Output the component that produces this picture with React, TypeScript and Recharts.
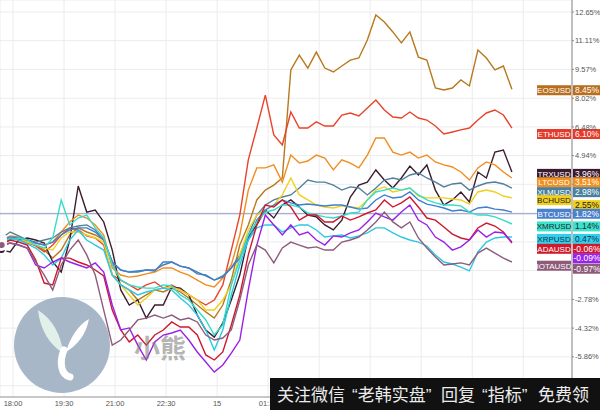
import React from 'react'
import { LineChart, Line, XAxis, YAxis, CartesianGrid, ReferenceLine, ReferenceDot } from 'recharts'

// % change vs. start, one point every 15 minutes from 17:40
const eos = [0.30, 0.52, 0.41, 0.25, 0.14, -0.13, -0.56, -0.13, 0.68, 1.06, 0.84, 0.68, 0.41, -0.77, -2.00, -2.27, -2.81, -2.54, -2.27, -2.38, -2.17, -2.38, -2.70, -3.08, -3.45, -3.78, -3.08, -1.74, 0.14, 1.22, 2.56, 3.09, 3.36, 3.74, 9.54, 10.34, 9.64, 10.50, 9.64, 9.43, 9.75, 10.07, 10.18, 11.15, 12.49, 12.11, 11.58, 10.99, 11.58, 10.23, 10.07, 8.57, 8.46, 8.57, 9.00, 8.68, 10.61, 10.18, 9.54, 9.75, 8.50]
const eth = [0.20, 0.41, 0.52, 0.30, 0.09, -0.23, 0.14, 0.68, 1.06, 0.95, 0.63, 0.52, 0.14, -1.47, -1.74, -2.00, -2.27, -2.00, -1.84, -2.17, -2.00, -2.27, -2.54, -2.81, -3.08, -2.81, -2.00, -0.13, 1.75, 4.71, 6.42, 8.19, 6.05, 5.51, 7.28, 6.42, 6.42, 6.75, 6.53, 6.53, 7.12, 7.23, 7.07, 7.50, 7.93, 7.39, 7.01, 6.96, 7.28, 6.96, 6.85, 6.53, 6.10, 6.21, 6.32, 6.42, 6.85, 7.23, 7.39, 7.12, 6.42]
const trx = [-0.13, -0.23, 0.41, 0.52, 0.41, 0.25, -0.77, -1.31, 0.41, 3.31, 1.91, 2.02, 1.38, -0.13, -2.27, -3.08, -2.81, -3.78, -3.08, -3.08, -2.11, -2.17, -2.54, -3.62, -4.42, -4.80, -4.05, -2.81, -1.47, 0.57, 1.22, 2.02, 1.59, 2.29, 2.56, 2.18, 1.75, 1.65, 1.22, 0.95, 1.48, 2.72, 3.36, 3.52, 4.17, 3.63, 3.20, 3.74, 4.38, 3.90, 4.44, 3.09, 2.29, 2.56, 2.99, 2.45, 4.06, 3.74, 5.13, 5.24, 4.06]
const ltc = [0.41, 0.63, 0.57, 0.41, 0.25, 0.14, 0.30, 0.84, 1.38, 1.75, 1.59, 1.22, 0.68, -1.09, -1.47, -1.58, -1.52, -1.41, -1.31, -1.09, -1.09, -1.31, -1.47, -1.74, -2.00, -2.11, -1.63, -0.93, 0.68, 3.09, 4.28, 4.28, 4.44, 3.52, 4.97, 4.54, 4.65, 4.97, 4.81, 4.17, 4.71, 4.54, 4.28, 4.97, 5.89, 5.89, 5.13, 4.97, 5.13, 4.81, 4.97, 4.60, 4.44, 4.33, 4.06, 3.63, 4.28, 4.60, 4.44, 4.06, 3.74]
const xlm = [0.52, 0.84, 0.63, 0.41, 0.30, 0.41, 0.52, 0.84, 1.06, 1.16, 1.22, 0.95, 0.41, -0.77, -1.20, -1.31, -1.31, -1.20, -1.20, -0.93, -0.77, -0.99, -1.09, -1.31, -1.52, -1.74, -1.52, -1.09, -0.39, 0.68, 1.75, 2.29, 2.56, 2.72, 2.83, 3.20, 3.63, 3.52, 3.52, 3.36, 3.09, 3.26, 3.20, 2.83, 3.20, 3.63, 3.74, 3.63, 3.90, 4.01, 3.74, 3.52, 3.26, 3.42, 3.47, 3.09, 3.31, 3.47, 3.52, 3.42, 3.20]
const bch = [0.30, 0.41, 0.52, 0.30, 0.14, -0.02, -0.13, 0.52, 0.84, 0.84, 0.68, 0.52, 0.30, -1.47, -2.00, -2.54, -3.08, -2.70, -2.27, -2.17, -2.11, -2.27, -2.54, -2.81, -3.35, -3.35, -2.81, -2.00, -0.39, 0.95, 1.75, 2.02, 2.29, 2.83, 3.74, 2.83, 2.56, 2.29, 2.18, 2.13, 2.24, 2.18, 2.13, 2.56, 3.09, 3.26, 2.99, 3.09, 3.20, 2.77, 2.67, 2.67, 2.67, 2.61, 2.56, 2.34, 2.99, 3.09, 2.99, 2.77, 2.67]
const btc = [0.41, 0.57, 0.52, 0.41, 0.25, 0.14, 0.30, 0.68, 0.95, 1.06, 1.06, 0.84, 0.41, -0.77, -1.20, -1.31, -1.25, -1.20, -1.25, -0.77, -0.77, -0.99, -1.09, -1.41, -1.47, -1.74, -1.58, -1.09, -0.56, 0.41, 1.48, 2.02, 2.29, 2.56, 2.40, 2.29, 2.34, 2.29, 2.24, 2.29, 2.29, 2.18, 2.07, 2.13, 2.56, 2.83, 2.67, 2.72, 2.99, 2.56, 2.34, 2.24, 2.13, 1.97, 2.02, 1.91, 2.13, 2.18, 2.07, 2.02, 1.91]
const xmr = [0.25, 0.41, 0.52, 0.41, 0.14, -0.02, 0.52, 2.56, 1.22, 1.59, 1.75, 1.06, 0.52, -0.93, -1.74, -2.00, -2.11, -2.17, -2.17, -2.00, -2.06, -2.54, -2.81, -3.35, -3.88, -4.69, -4.15, -2.00, -0.66, 0.68, 1.38, 1.91, 2.02, 2.29, 2.29, 2.18, 1.86, 1.75, 1.65, 1.59, 1.70, 1.86, 1.91, 2.56, 2.99, 3.09, 3.20, 3.09, 3.20, 2.83, 2.56, 2.40, 2.29, 2.29, 2.24, 1.91, 1.75, 1.75, 1.65, 1.48, 1.27]
const xrp = [0.30, 0.52, 0.41, 0.20, -0.02, -0.39, -0.93, -0.56, 0.41, 0.95, 0.41, 0.14, -0.13, -1.47, -2.00, -2.27, -2.54, -2.38, -2.27, -2.17, -2.27, -2.70, -3.08, -3.62, -4.42, -5.49, -4.42, -2.54, -0.93, 0.41, 1.06, 1.22, 1.22, 0.84, 1.06, 1.22, 1.22, 0.95, 0.57, 0.63, 0.68, 0.52, 0.63, 0.79, 1.06, 1.06, 0.79, 0.57, 0.41, 0.30, 0.09, -0.39, -0.77, -0.88, -1.04, -1.25, -0.23, 0.30, 0.52, 0.57, 0.57]
const ada = [0.20, 0.41, 0.30, 0.14, -0.66, -1.90, -2.00, -0.56, -0.56, -0.77, -0.93, -1.20, -1.52, -3.35, -4.42, -5.06, -4.69, -5.23, -4.69, -4.42, -3.99, -4.26, -4.26, -4.69, -5.76, -6.03, -5.60, -4.15, -2.54, -0.39, 1.22, 2.29, 2.18, 2.56, 2.18, 1.48, 1.75, 1.75, 1.38, 1.38, 1.70, 1.48, 1.65, 1.86, 2.02, 2.56, 2.18, 2.40, 2.72, 2.18, 1.59, 1.48, 1.11, 0.73, 0.52, 0.41, 1.06, 1.32, 1.16, 0.84, 0.25]
const neo = [0.09, 0.25, 0.14, -0.02, -0.93, -1.09, -0.77, -0.56, -0.77, -0.93, -1.09, -0.82, -1.31, -3.08, -4.42, -4.31, -5.23, -6.03, -5.06, -4.69, -4.58, -4.42, -4.96, -5.60, -6.14, -6.68, -6.30, -5.66, -4.96, -2.27, 0.14, 1.75, 1.22, 0.68, 1.22, 0.68, 0.84, 0.41, 0.14, 0.63, 0.57, 0.79, 0.95, 1.38, 1.86, 1.65, 1.48, 1.91, 2.29, 1.48, 1.22, 0.57, 0.30, -0.13, 0.04, 0.41, 0.95, 0.57, 0.84, 0.79, 0.30]
const iota = [0.14, 0.25, 0.14, -0.02, -0.77, -1.47, -2.27, -0.93, -0.13, 0.41, -0.39, -1.47, -3.35, -5.23, -4.96, -4.42, -3.88, -3.78, -3.62, -3.78, -3.62, -3.88, -3.78, -3.99, -4.69, -4.96, -4.85, -4.42, -2.81, -0.93, 0.14, -0.13, -0.82, -0.02, 0.30, 0.14, -0.02, 0.04, -0.13, -0.13, 0.30, 0.41, 0.57, 0.95, 1.38, 1.91, 1.38, 1.06, 1.38, 0.52, -0.02, -0.50, -0.93, -0.88, -0.82, -0.93, -0.29, -0.02, -0.29, -0.56, -0.77]

const symbols = ['EOSUSD', 'ETHUSD', 'TRXUSD', 'LTCUSD', 'XLMUSD', 'BCHUSD', 'BTCUSD', 'XMRUSD', 'XRPUSD', 'ADAUSD', 'NEOUSD', 'IOTAUSD']
const seriesValues = [eos, eth, trx, ltc, xlm, bch, btc, xmr, xrp, ada, neo, iota]
const lastValues = [8.45, 6.10, 3.96, 3.51, 2.98, 2.55, 1.82, 1.14, 0.47, -0.06, -0.09, -0.97]

// minutes after 18:00; labels past 01:30 sit under the banner
const timeTicks = [0, 90, 180, 270, 360, 450, 540, 630, 720, 810, 900]
const timeLabels = ['18:00', '19:30', '21:00', '22:30', '15', '01:30', '', '', '', '', '']
const pctTicks = [12.65, 11.11, 9.57, 8.02, 6.48, 4.94, 3.40, 1.86, 0.31, -1.23, -2.78, -4.32, -5.86, -7.41]
// tick labels that sit behind the price tags or the banner
const coveredTicks = [3.40, 1.86, 0.31, -1.23, -7.41]

const lineColors = ['#b8781e', '#e8442b', '#3a1d2f', '#f08d1e', '#52809a', '#f0d01e', '#3f7fd0', '#36dcc8', '#2cc8e4', '#cf1830', '#9a20e8', '#8e5c7c']
const tagColors = ['#b86e1c', '#e53a2a', '#3a1a2e', '#f0901e', '#4a7f9e', '#f2cf1d', '#4a80cc', '#3de2cc', '#2fd0ea', '#d01a2c', '#9a22ec', '#8e5a7a']
const tagText = ['#fff', '#fff', '#fff', '#fff', '#fff', '#222', '#fff', '#1a2a30', '#1a3050', '#fff', '#fff', '#fff']
// small pixel nudges where the tags would overlap
const tagShift: Record<string, { name: number; value: number; hideName?: boolean }> = {
  BCHUSD: { name: 0, value: 5 },
  NEOUSD: { name: 9, value: 9, hideName: true },
  IOTAUSD: { name: 0, value: 3 },
}

const X_MIN = -23
const X_MAX = 986
const Y_MIN = -8.017
const Y_MAX = 13.294

const chartData = eos.map((_, i) => {
  const row: Record<string, number> = { t: -20 + i * 15 }
  symbols.forEach((s, k) => {
    row[s] = seriesValues[k][i]
  })
  return row
})

const font = '"Liberation Sans", Arial, sans-serif'
const cjk = '"Noto Sans CJK SC", sans-serif'

function PriceTag({ cx, cy, k }: { cx: number; cy: number; k: number }) {
  const sym = symbols[k]
  const shift = tagShift[sym] || { name: 0, value: 0 }
  const h = 10
  return (
    <g>
      {!shift.hideName && (
        <g>
          <rect x={cx - 35} y={cy - h / 2 + shift.name} width={34} height={h} fill={tagColors[k]} />
          <text x={cx - 18} y={cy + shift.name} dy="0.35em" textAnchor="middle" fontSize={8} fontFamily={font} fill={tagText[k]}>
            {sym}
          </text>
        </g>
      )}
      <rect x={cx + 1} y={cy - h / 2 + shift.value} width={28} height={h} fill={tagColors[k]} />
      <text x={cx + 15} y={cy + shift.value} dy="0.35em" textAnchor="middle" fontSize={8.5} fontFamily={font} fill={tagText[k]}>
        {lastValues[k].toFixed(2)}%
      </text>
    </g>
  )
}

export default function App() {
  return (
    <div style={{ position: 'absolute', left: 0, top: 0, width: 600, height: 410, background: '#fff', overflow: 'hidden' }}>
      <LineChart width={600} height={410} data={chartData} margin={{ top: 0, right: 0, left: 0, bottom: 0 }}>
        <CartesianGrid stroke="#ececec" strokeWidth={1} />
        <XAxis
          dataKey="t"
          type="number"
          domain={[X_MIN, X_MAX]}
          ticks={timeTicks}
          interval={0}
          height={13}
          tickFormatter={(v) => timeLabels[timeTicks.indexOf(v)] ?? ''}
          tick={{ fill: '#555', fontSize: 7.5, fontFamily: font }}
          axisLine={{ stroke: '#9a9a9a' }}
          tickLine={false}
          tickSize={2}
          allowDataOverflow
        />
        <YAxis
          orientation="right"
          type="number"
          domain={[Y_MIN, Y_MAX]}
          ticks={pctTicks}
          interval={0}
          width={28}
          tickFormatter={(v) => (coveredTicks.includes(v) ? '' : `${v.toFixed(2)}%`)}
          tick={{ fill: '#555', fontSize: 7.5, fontFamily: font, textAnchor: 'start' }}
          axisLine={{ stroke: '#8a8a8a' }}
          tickLine={{ stroke: '#8a8a8a' }}
          tickSize={2}
          tickMargin={1}
          allowDataOverflow
        />
        <ReferenceLine y={lastValues[6]} stroke="#8e98c8" strokeWidth={1} ifOverflow="visible" />
        {symbols.map((s, k) => (
          <Line
            key={s}
            type="linear"
            dataKey={s}
            stroke={lineColors[k]}
            strokeWidth={1.4}
            dot={false}
            isAnimationActive={false}
          />
        ))}
        {symbols.map((s, k) => (
          <ReferenceDot
            key={`tag-${s}`}
            x={X_MAX}
            y={lastValues[k]}
            r={0}
            ifOverflow="visible"
            shape={(p: any) => <PriceTag cx={p.cx} cy={p.cy} k={k} />}
          />
        ))}
      </LineChart>

      <svg width={600} height={410} style={{ position: 'absolute', left: 0, top: 0, pointerEvents: 'none' }}>
        <circle cx={62} cy={345} r={48} fill="#9fb1c3" opacity={0.92} />
        <path d="M38,310 C40,330 50,345 63,353 C61,334 52,319 38,310 Z" fill="#e2f0ea" />
        <path d="M89,319 C78,325 70,338 66,352 C77,345 86,335 89,319 Z" fill="#ffffff" />
        <path d="M64,350 C59,362 61,375 70,377" stroke="#ffffff" strokeWidth={7} strokeLinecap="round" fill="none" />
        <text x={160} y={358} textAnchor="middle" fontSize={26} fontWeight="bold" fill="#7a7a7a" opacity={0.55} fontFamily={cjk}>
          小熊
        </text>
        <rect x={270} y={378} width={330} height={32} fill="#111" />
        <text y={401} fontSize={17} fill="#ececec" fontFamily={cjk}>
          <tspan x={277}>关注微信</tspan>
          <tspan x={352} fontFamily={font}>“</tspan>
          <tspan>老韩实盘</tspan>
          <tspan fontFamily={font}>”</tspan>
          <tspan x={441}>回复</tspan>
          <tspan x={482} fontFamily={font}>“</tspan>
          <tspan>指标</tspan>
          <tspan fontFamily={font}>”</tspan>
          <tspan x={538}>免费领</tspan>
        </text>
      </svg>
    </div>
  )
}
